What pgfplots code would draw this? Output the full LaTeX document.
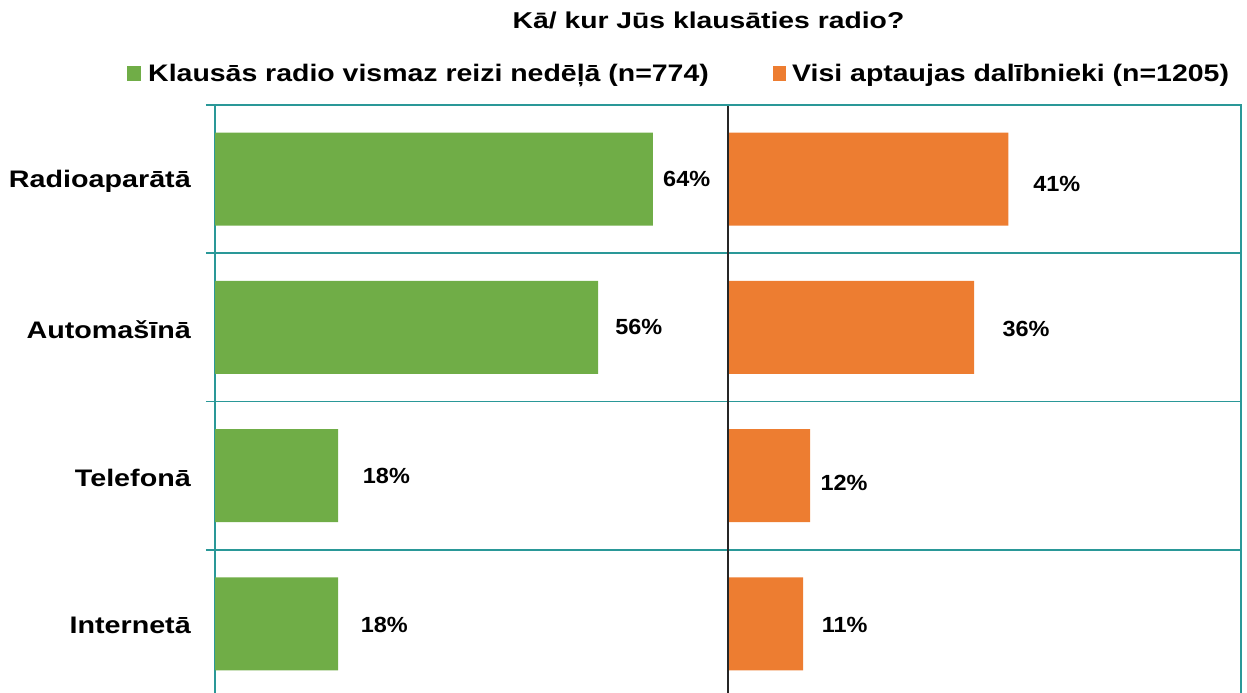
\documentclass[border=0pt]{standalone}
\usepackage{fontspec}
\setmainfont{Liberation Sans}
\usepackage{pgfplots}
\pgfplotsset{compat=1.18}
\definecolor{barG}{HTML}{70AD47}
\definecolor{barO}{HTML}{ED7D31}
\definecolor{gridT}{HTML}{2A9898}
\begin{document}
\begin{tikzpicture}
\clip (0bp,0bp) rectangle (1247bp,693bp);
\pgfplotsset{panel/.style={
  anchor=south west, width=513bp, height=593bp, scale only axis,
  xmin=0, xmax=75, ymin=-0.5, ymax=3.5,
  xbar, bar width=0.627, bar shift=0pt,
  xtick=\empty, ytick={0,1,2,3},
  minor ytick={-0.5,0.5,1.5,2.5,3.5},
  yminorgrids, minor grid style={gridT, line width=1.7bp},
  major tick length=0pt, ytick pos=left, tick align=outside,
  tick style={gridT, line width=1.7bp},
  axis line style={gridT, line width=1.7bp},
}}
\tikzset{lbl/.style={font=\bfseries\fontsize{22}{26}\selectfont, xscale=1.07, anchor=west, inner sep=0pt}}
% left panel
\begin{axis}[panel, at={(215bp,-5bp)}, minor tick length=9bp,
  yticklabels={Internetā,Telefonā,Automašīnā,Radioaparātā},
  yticklabel style={font=\bfseries\fontsize{24}{28}\selectfont, xscale=1.2, anchor=east, inner sep=0pt, xshift=-20bp, yshift=-2bp}]
\addplot[fill=barG, draw=none] coordinates {(18,0) (18,1) (56,2) (64,3)};
\node[lbl] at (axis cs:65.5,3) {64\%};
\node[lbl] at (axis cs:58.5,2) {56\%};
\node[lbl] at (axis cs:21.6,1) {18\%};
\node[lbl] at (axis cs:21.3,-0.01) {18\%};
\end{axis}
% right panel
\begin{axis}[panel, at={(728bp,-5bp)}, minor tick length=0pt, yticklabels={}]
\addplot[fill=barO, draw=none] coordinates {(11,0) (12,1) (36,2) (41,3)};
\node[lbl] at (axis cs:44.6,2.97) {41\%};
\node[lbl] at (axis cs:40.1,1.99) {36\%};
\node[lbl] at (axis cs:13.5,0.95) {12\%};
\node[lbl] at (axis cs:13.7,-0.01) {11\%};
\end{axis}
\draw[black!85, line width=1.5bp] (728bp,-5bp) -- (728bp,587.3bp);
% title and legend
\node[font=\bfseries\fontsize{23}{27}\selectfont, xscale=1.235, anchor=base, inner sep=0pt] at (708.5bp,664.7bp) {Kā/ kur Jūs klausāties radio?};
\fill[barG] (127bp,612bp) rectangle (141bp,627bp);
\node[font=\bfseries\fontsize{24}{28}\selectfont, xscale=1.19, anchor=base west, inner sep=0pt] at (148bp,611.3bp) {Klausās radio vismaz reizi nedēļā (n=774)};
\fill[barO] (773bp,612bp) rectangle (786bp,627bp);
\node[font=\bfseries\fontsize{24}{28}\selectfont, xscale=1.19, anchor=base west, inner sep=0pt] at (792bp,611.3bp) {Visi aptaujas dalībnieki (n=1205)};
\end{tikzpicture}
\end{document}
